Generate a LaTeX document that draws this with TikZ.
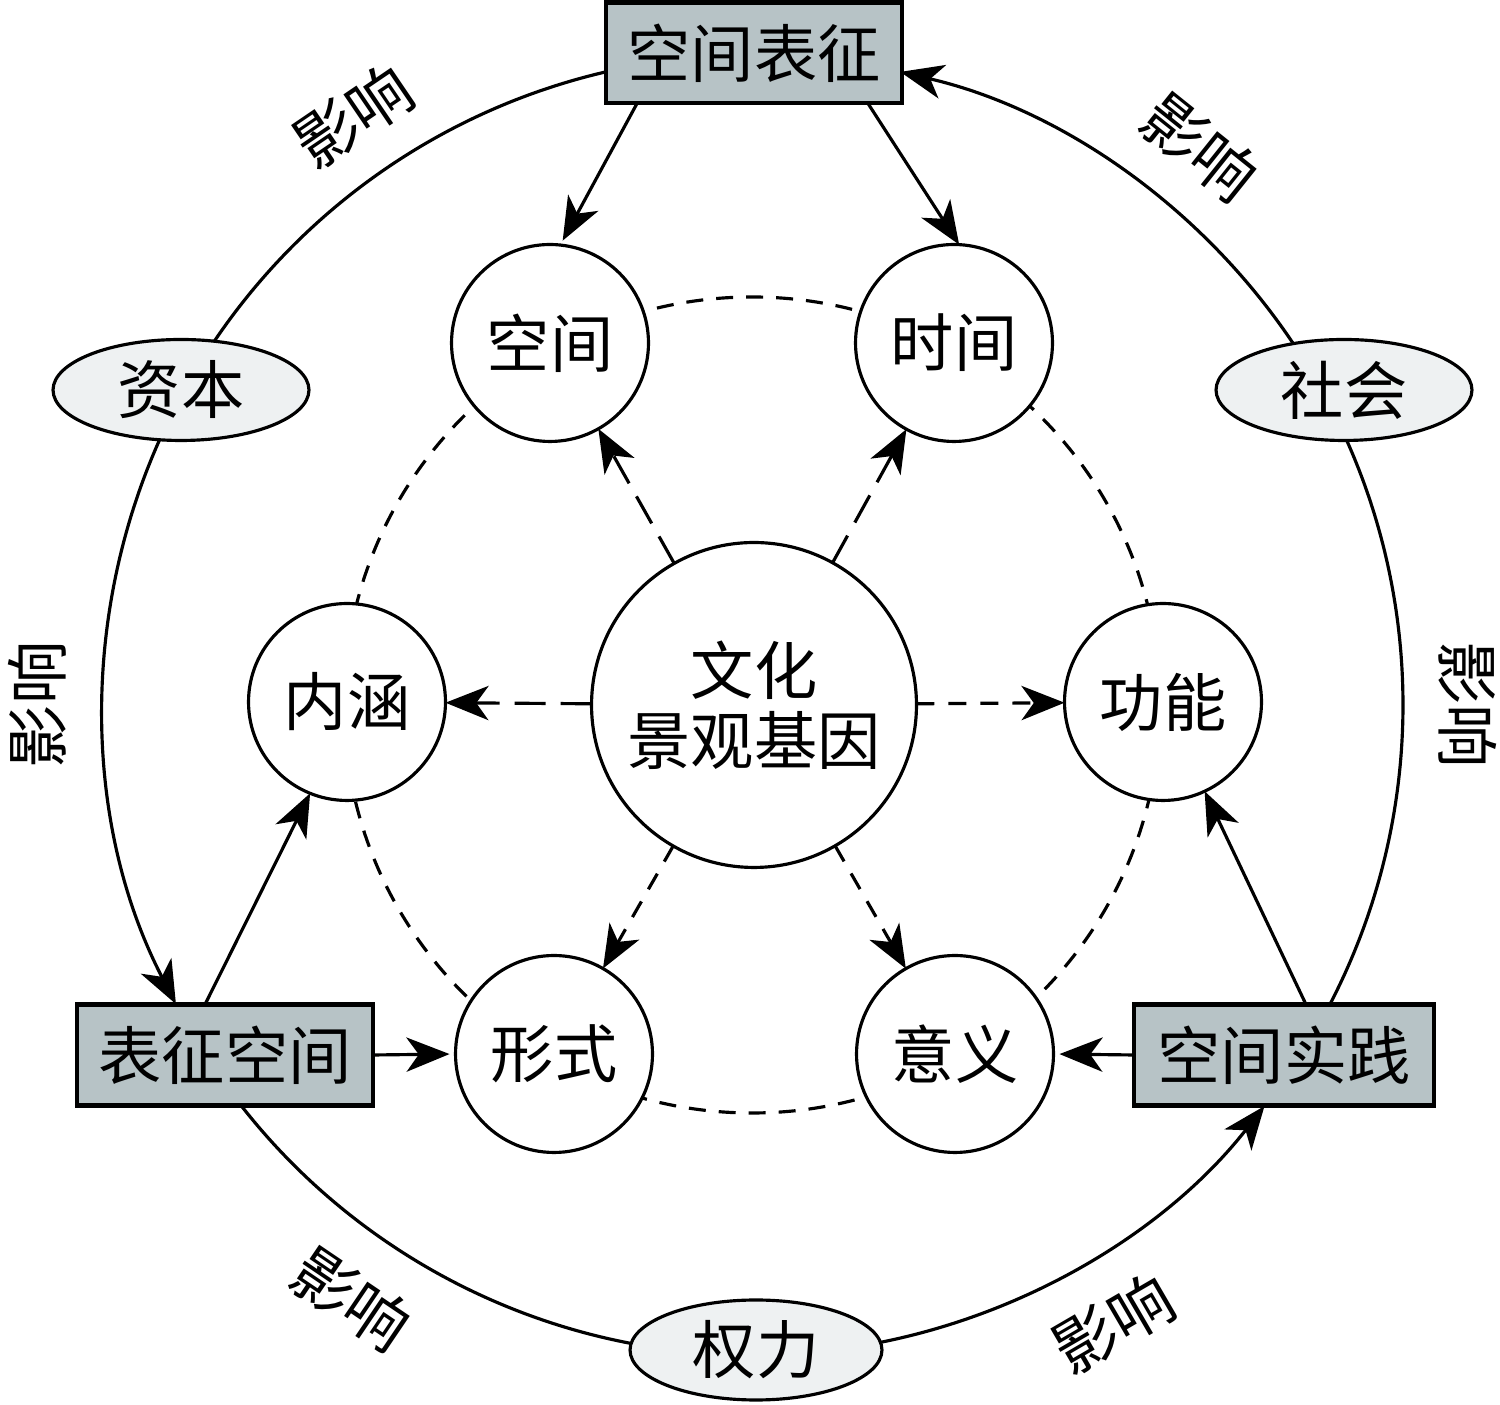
\documentclass[tikz,border=0pt]{standalone}
\usepackage{fontspec}
\setmainfont{Noto Sans CJK SC}
\usetikzlibrary{arrows.meta,calc,shapes.geometric}
\definecolor{boxgray}{HTML}{B7C3C6}
\definecolor{ellgray}{HTML}{EEF1F2}
\begin{document}
\begin{tikzpicture}[x=0.02cm,y=0.02cm,
  txt/.style={font=\fontsize{36}{40}\selectfont, inner sep=0pt, outer sep=0pt},
  lw/.style={line width=1.8pt},
  tipA/.style={-{Stealth[length=24.5pt,width=19.5pt,inset=7pt]}},
  smallc/.style={txt, circle, draw, lw, fill=white, minimum size=3.94cm},
  bigc/.style={txt, circle, draw, lw, fill=white, minimum size=6.5cm, align=center},
  boxn/.style={txt, rectangle, draw, line width=2.3pt, fill=boxgray, minimum width=5.92cm, minimum height=2.02cm},
  elln/.style={txt, ellipse, draw, lw, fill=ellgray, minimum width=5.12cm, minimum height=2.02cm},
  arr/.style={lw, tipA},
  spokeL/.style={arr, dash pattern=on 0.62cm off 0.3cm},
  spokeS/.style={arr, dash pattern=on 0.36cm off 0.28cm},
  ring/.style={lw, dash pattern=on 0.34cm off 0.26cm},
  outer/.style={lw},
  lab/.style={txt}
]
\useasboundingbox (0,0) rectangle (1500,1405);
\coordinate (O) at (753,700);
\coordinate (D) at (752,700);

% dashed ring through the six factors
\draw[ring] (D) circle[radius=408];

% centre
\node[bigc] (cg) at (754,700) {文化\\景观基因};

% six factors
\node[smallc] (kj) at (550,1062) {空间};
\node[smallc] (sj) at (954,1062) {时间};
\node[smallc] (nh) at (347,703) {内涵};
\node[smallc] (gn) at (1163,703) {功能};
\node[smallc] (xs) at (554,351) {形式};
\node[smallc] (yy) at (955,351) {意义};

% three spaces
\node[boxn] (kjbz) at (754,1352) {空间表征};
\node[boxn] (bzkj) at (225,350) {表征空间};
\node[boxn, minimum width=6.0cm] (kjsj) at (1284,350) {空间实践};

% three forces
\node[elln] (zb) at (181,1015) {资本};
\node[elln] (sh) at (1344,1015) {社会};
\node[elln, minimum width=5.04cm, minimum height=2cm] (ql) at (756,55) {权力};

% outer ring, as arcs between the nodes
\coordinate (a1) at ($(O)+(33.8:650)$);
\coordinate (a2) at ($(O)+(103.1:650)$);
\coordinate (a3) at ($(O)+(155.9:650)$);
\coordinate (a4) at ($(O)+(218.2:650)$);
\coordinate (a5) at ($(O)+(281.35:650)$);
\coordinate (a6) at ($(O)+(332.6:650)$);
\draw[outer, tipA] (a1) arc[start angle=33.8, end angle=76.9, radius=650];
\draw[outer] (a2) arc[start angle=103.1, end angle=146.0, radius=650];
\draw[outer, tipA] (a3) arc[start angle=155.9, end angle=207.4, radius=650];
\draw[outer] (a4) arc[start angle=218.2, end angle=259.2, radius=650];
\draw[outer, tipA] (a5) arc[start angle=281.35, end angle=321.9, radius=650];
\draw[outer] (a6) arc[start angle=332.6, end angle=384.0, radius=650];

% solid arrows from the spaces
\draw[arr, shorten >=0.1cm] ($(kjbz.south)+(-117,0)$) -- (kj.84);
\draw[arr] ($(kjbz.south)+(114,0)$) -- (sj.87);
\draw[arr] ($(bzkj.north)+(-20,0)$) -- (nh.248);
\draw[arr, shorten >=0.12cm] (bzkj.east) -- (xs.west);
\draw[arr] ($(kjsj.north)+(22,0)$) -- (gn.295);
\draw[arr, shorten >=0.12cm] (kjsj.west) -- (yy.east);

% dashed spokes from the centre
\draw[spokeL] (cg) -- (kj);
\draw[spokeL] (cg) -- (sj);
\draw[spokeL] (cg) -- (nh);
\draw[spokeS] (cg) -- (gn);
\draw[spokeS] (cg) -- (xs);
\draw[spokeS] (cg) -- (yy);

% labels along the outer ring
\node[lab, rotate=34.2] (l1) at ($(O)+(124.2:712)$) {影响};
\node[lab, rotate=-38.7] (l2) at ($(O)+(51.3:715)$) {影响};
\node[lab, rotate=90] (l3) at ($(O)+(180:716)$) {影响};
\node[lab, rotate=-90] (l4) at ($(O)+(0:715)$) {影响};
\node[lab, rotate=-34.1] (l5) at ($(O)+(235.9:717)$) {影响};
\node[lab, rotate=30.2] (l6) at ($(O)+(300.2:716)$) {影响};
\end{tikzpicture}
\end{document}
